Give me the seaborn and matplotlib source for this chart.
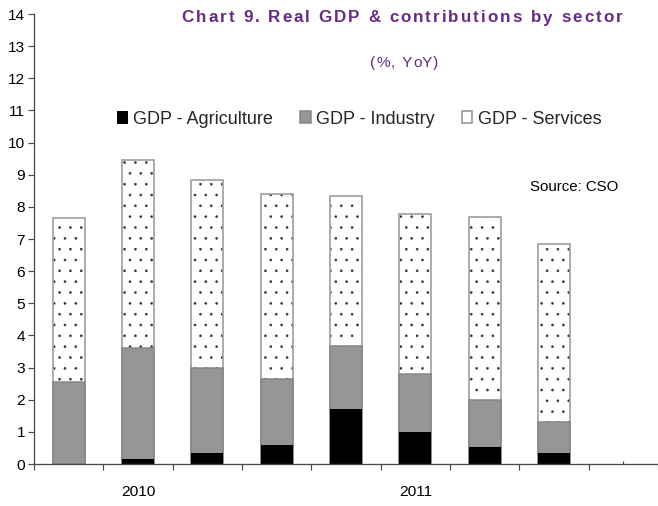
import matplotlib
matplotlib.use("Agg")
import matplotlib.pyplot as plt
from matplotlib.patches import Patch
import numpy as np
import pandas as pd
import seaborn as sns

# Quarterly contributions to real GDP growth (%, YoY), percentage points
quarters = ["Q1 2010", "Q2 2010", "Q3 2010", "Q4 2010",
            "Q1 2011", "Q2 2011", "Q3 2011", "Q4 2011", "Q1 2012"]
agriculture = [0.00, 0.15, 0.35, 0.58, 1.71, 1.01, 0.53, 0.35]
industry = [2.54, 3.47, 2.64, 2.07, 1.95, 1.78, 1.47, 0.95]
services = [5.10, 5.83, 5.84, 5.74, 4.68, 4.98, 5.70, 5.54]
year_labels = ["", "2010", "", "", "", "2011", "", "", ""]
y_ticks = list(range(0, 15))

DPI = 130
W, H = 658, 506


def pt(px):
    return px * 72.0 / DPI


sns.set_theme(style="white")
plt.rcParams["font.family"] = ["Liberation Sans", "DejaVu Sans"]
plt.rcParams["hatch.linewidth"] = pt(0.4)

df = pd.DataFrame({
    "quarter": quarters[:len(agriculture)],
    "agri": agriculture,
    "industry": industry,
    "services": services,
})
df["top_industry"] = df["agri"] + df["industry"]
df["total"] = df["top_industry"] + df["services"]

fig = plt.figure(figsize=(W / DPI, H / DPI), dpi=DPI)
ax = fig.add_axes([34 / W, 1 - 464 / H, (W - 34) / W, (464 - 14) / H])

bar_w = 0.46
common = dict(x="quarter", order=quarters, data=df, errorbar=None,
              saturation=1, width=bar_w, ax=ax)

# Services (stacked top): dotted white bar, then its grey outline
sns.barplot(y="total", color="white", edgecolor="#303030", linewidth=0,
            hatch="..", **common)
sns.barplot(y="total", fill=False, color="#a0a0a0", linewidth=pt(1.7), **common)
# Industry (middle)
sns.barplot(y="top_industry", color="#969696", edgecolor="#868686",
            linewidth=pt(1.5), **common)
# Agriculture (bottom)
sns.barplot(y="agri", color="black", edgecolor="black", linewidth=0, **common)

ax.set_xlim(-0.5, len(quarters) - 0.5)
ax.set_ylim(0, 14)
ax.set_xlabel("")
ax.set_ylabel("")

spine_col = "#4a4a4a"
for side in ["top", "right"]:
    ax.spines[side].set_visible(False)
for side in ["left", "bottom"]:
    ax.spines[side].set_color(spine_col)
    ax.spines[side].set_linewidth(pt(1.3))

ax.set_yticks(y_ticks)
ax.set_yticklabels([str(v) for v in y_ticks])
ax.tick_params(axis="y", which="major", direction="out", length=pt(6),
               width=pt(1.2), color=spine_col, pad=pt(3),
               labelsize=pt(15.5), labelcolor="black", left=True)

# Category boundaries carry the outward ticks; labels sit at centres
ax.set_xticks(np.arange(-0.5, len(quarters), 1.0))
ax.set_xticklabels([])
ax.tick_params(axis="x", which="major", direction="out", length=pt(6),
               width=pt(1.2), color=spine_col, bottom=True)
ax.set_xticks(np.arange(len(quarters)), minor=True)
ax.set_xticklabels(year_labels, minor=True)
ax.tick_params(axis="x", which="minor", direction="in", length=pt(3.5),
               width=pt(1.2), color=spine_col, pad=pt(21),
               labelsize=pt(15.5), labelcolor="black", bottom=True)
for i, t in enumerate(ax.xaxis.get_minor_ticks()):
    if i not in (0, len(quarters) - 1):
        t.tick1line.set_visible(False)

fig.canvas.draw()
renderer = fig.canvas.get_renderer()


def text_width(s, **kw):
    # pixel advance of s, robust to trailing spaces
    t = fig.text(0, 0, s + "|", **kw)
    b = fig.text(0, 0, "|", **kw)
    w = t.get_window_extent(renderer).width - b.get_window_extent(renderer).width
    t.remove()
    b.remove()
    return w


def spaced_text(xc, yc, s, spacing, **kw):
    # letter-spaced string centred on (xc, yc) in pixels from the top-left
    total = text_width(s, **kw) + spacing * (len(s) - 1)
    x0 = xc - total / 2
    for i, ch in enumerate(s):
        if ch == " ":
            continue
        off = text_width(s[:i], **kw) + spacing * i if i else 0.0
        fig.text((x0 + off) / W, 1 - yc / H, ch, ha="left", va="center", **kw)


purple = "#672a86"
spaced_text(402, 18, "Chart 9. Real GDP & contributions by sector", 2.0,
            color=purple, fontsize=pt(17), fontweight="bold")
spaced_text(404, 63, "(%, YoY)", 1.2, color=purple, fontsize=pt(15.5))
fig.text(574 / W, 1 - 187 / H, "Source: CSO", ha="center", va="center",
         color="black", fontsize=pt(15))

handles = [
    Patch(facecolor="black", edgecolor="black", linewidth=pt(1.0)),
    Patch(facecolor="#969696", edgecolor="#858585", linewidth=pt(1.5)),
    Patch(facecolor="white", edgecolor="#8a8a8a", linewidth=pt(1.5), hatch="."),
]
fig.legend(handles, ["GDP - Agriculture", "GDP - Industry", "GDP - Services"],
           loc="center", bbox_to_anchor=(359 / W, 1 - 119 / H), ncol=3,
           frameon=False, fontsize=pt(18), handlelength=0.6,
           handleheight=0.6, handletextpad=0.3, columnspacing=1.5)

fig.savefig("out.png", dpi=DPI)
